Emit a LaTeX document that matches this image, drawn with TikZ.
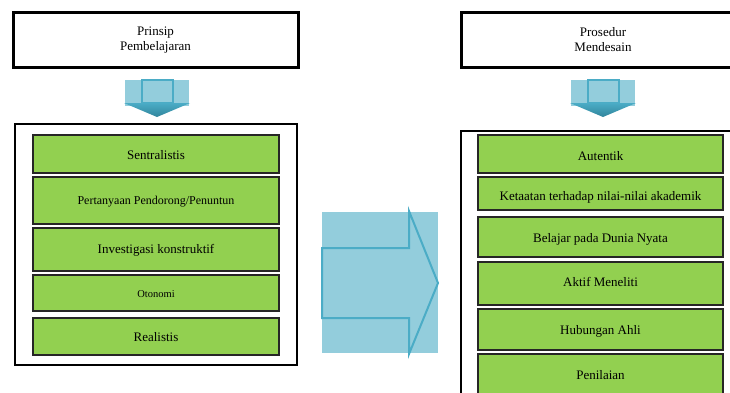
\documentclass[tikz,border=0pt]{standalone}
\usepackage{fontspec}
\setmainfont{Liberation Serif}
\definecolor{grn}{HTML}{92D050}
\definecolor{lblue}{HTML}{93CDDC}
\definecolor{mblue}{HTML}{4BACC6}
\definecolor{dblue}{HTML}{31859C}
\tikzset{
  titlebox/.style={draw=black, line width=3pt, fill=white},
  outerbox/.style={draw=black, line width=1.6pt},
  greenbox/.style={draw=black!85, line width=1.8pt, fill=grn},
  lbl/.style={font=\fontsize{13}{15}\selectfont},
}
\begin{document}
\begin{tikzpicture}[x=1pt,y=-1pt]
\useasboundingbox (0,0) rectangle (730,392);
\clip (0,0) rectangle (730,392);
% title boxes
\draw[titlebox] (13,12) rectangle (298,67);
\node[align=center, font=\fontsize{13}{15}\selectfont] (t1) at (155.5,40) {Prinsip\\Pembelajaran};
\draw[titlebox] (461,12) rectangle (745,67);
\node[align=center, font=\fontsize{13}{15}\selectfont] (t2) at (603,40) {Prosedur\\Mendesain};
% small down arrows
\foreach \cx/\nm in {157/a1, 603/a2}{
  \fill[lblue] (\cx-32,80) rectangle (\cx+32,106);
  \draw[mblue, line width=1.6pt, fill=lblue] (\cx-15,80) -- (\cx-15,103) -- (\cx+16,103) -- (\cx+16,80) -- cycle;
  \shade[top color=mblue, bottom color=dblue] (\cx-33,103) -- (\cx+33,103) -- (\cx,117) -- cycle;
  \coordinate (\nm) at (\cx,117);
}
% left outer box
\draw[outerbox] (15,124) rectangle (297,365);
\foreach \y/\h/\t/\fs [count=\i] in {135/173/Sentralistis/13, 177/224/Pertanyaan Pendorong\slash Penuntun/12, 228/271/Investigasi konstruktif/13, 275/311/Otonomi/10.5, 318/355/Realistis/13}{
  \draw[greenbox] (33,\y) rectangle (279,\h);
  \node[font=\fontsize{\fs}{\fs}\selectfont] (L\i) at (156,{(\y+\h)/2+1}) {\t};
}
% right outer box
\draw[outerbox] (461,400) -- (461,131) -- (745,131);
\foreach \y/\h [count=\i] in {135/173, 177/210, 217/257, 262/305, 309/350, 354/400}{
  \draw[greenbox] (478,\y) rectangle (723,\h);
}
\foreach \y/\t [count=\i] in {156/Autentik, 197/Ketaatan terhadap nilai-nilai akademik, 239/Belajar pada Dunia Nyata, 282/Aktif Meneliti, 331/Hubungan Ahli, 375/Penilaian}{
  \node[lbl] (R\i) at (600.5,\y) {\t};
}
% middle big arrow
\fill[lblue] (322,212) rectangle (438,353);
\draw[mblue, line width=2pt, line join=miter] (322,248) -- (409,248) -- (409,211) -- (438,283) -- (409,354) -- (409,318) -- (322,318) -- cycle;
\end{tikzpicture}
\end{document}
